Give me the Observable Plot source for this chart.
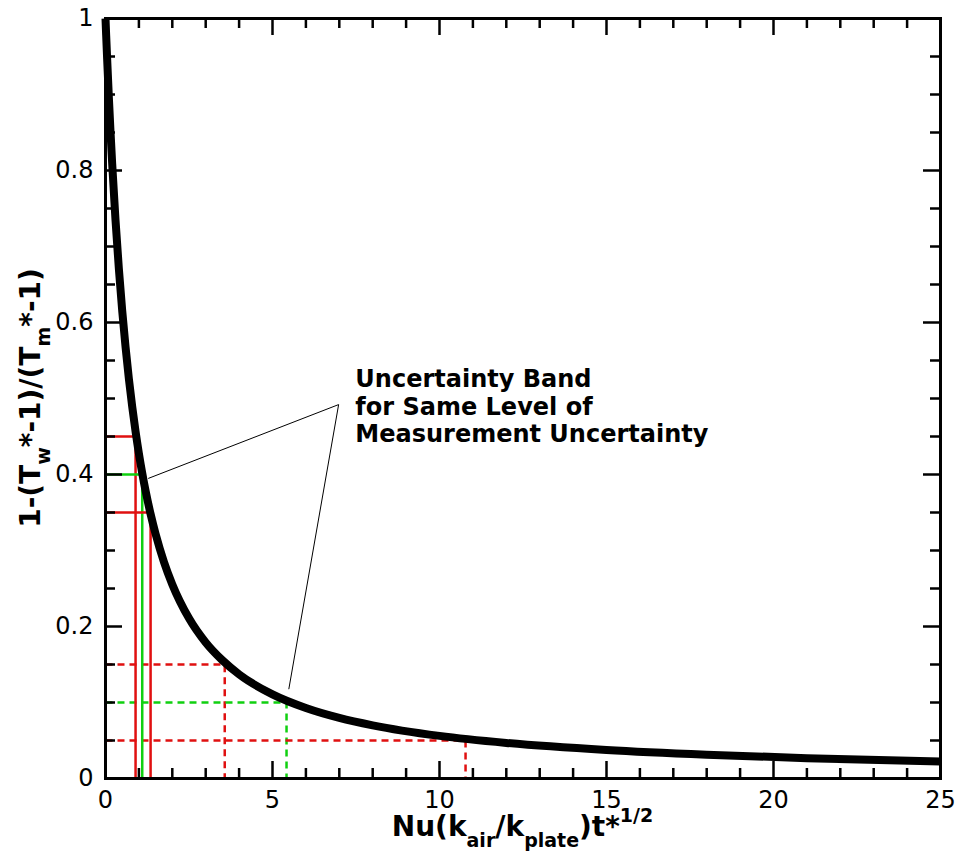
<!DOCTYPE html>
<html><head><meta charset="utf-8">
<script src="https://cdn.jsdelivr.net/npm/d3@7"></script>
<script src="https://cdn.jsdelivr.net/npm/@observablehq/plot@0.6"></script>
<style>html,body{margin:0;padding:0;background:#fff;overflow:hidden} #chart svg{display:block}</style>
</head><body><div id="chart"></div>
<script>
// ---- data ----
const curveX = [0, 0.02, 0.05, 0.1, 0.15, 0.2, 0.3, 0.4, 0.5, 0.6, 0.7, 0.8, 0.9, 1.0, 1.1, 1.2, 1.35, 1.5, 1.75, 2.0, 2.5, 3.0, 3.5, 4.0, 5.0, 6.0, 7.0, 8.0, 10, 12, 15, 18, 21, 25];
const curveY = [1, 0.9778, 0.946, 0.8965, 0.8509, 0.809, 0.7346, 0.6708, 0.6157, 0.5678, 0.5259, 0.4891, 0.4565, 0.4276, 0.4017, 0.3785, 0.348, 0.3216, 0.285, 0.2554, 0.2108, 0.179, 0.1556, 0.137, 0.1107, 0.0928, 0.0798, 0.07, 0.0561, 0.0468, 0.0375, 0.0313, 0.0268, 0.0225];

const xMajor = [0, 5, 10, 15, 20, 25];
const xMinor = [1, 2, 3, 4, 6, 7, 8, 9, 11, 12, 13, 14, 16, 17, 18, 19, 21, 22, 23, 24];
const yMajor = [0, 0.2, 0.4, 0.6, 0.8, 1];
const yMinor = [0.05, 0.1, 0.15, 0.25, 0.3, 0.35, 0.45, 0.5, 0.55, 0.65, 0.7, 0.75, 0.85, 0.9, 0.95];
const xTickLabels = ["0", "5", "10", "15", "20", "25"];
const yTickLabels = ["0", "0.2", "0.4", "0.6", "0.8", "1"];

const bandLevels = [0.45, 0.40, 0.35];
const bandX = [0.9, 1.1, 1.35];
const bandColors = ["#e01010", "#10d010", "#e01010"];

const dashLevels = [0.15, 0.10, 0.05];
const dashX = [3.57, 5.42, 10.78];
const dashColors = ["#e01010", "#10d010", "#e01010"];

const leaderX = [1.29, 6.98, 5.49];
const leaderY = [0.395, 0.492, 0.118];

const noteLines = ["Uncertainty Band", "for Same Level of", "Measurement Uncertainty"];
const noteX = [7.48];
const noteY = [0.541];

// ---- layout ----
const W = 959, H = 861;
const mL = 105, mR = 19, mT = 18, mB = 83;
const frameW = W - mL - mR, frameH = H - mT - mB;
const majorLen = 17, minorLen = 10;

const curve = curveX.map((x, i) => ({x, y: curveY[i]}));
const stepPath = (levels, xs, colors) => levels.flatMap((L, i) => [
  {x: 0, y: L, k: i, c: colors[i]},
  {x: xs[i], y: L, k: i, c: colors[i]},
  {x: xs[i], y: 0, k: i, c: colors[i]}
]);
const bands = stepPath(bandLevels, bandX, bandColors);
const dashes = stepPath(dashLevels, dashX, dashColors);
const leader = leaderX.map((x, i) => ({x, y: leaderY[i]}));
const note = [{x: noteX[0], y: noteY[0], t: noteLines.join("\n")}];
const xLab = xMajor.map((v, i) => ({v, t: xTickLabels[i]}));
const yLab = yMajor.map((v, i) => ({v, t: yTickLabels[i]}));

const tickStyle = {stroke: "black", strokeWidth: 2.5};

const chart = Plot.plot({
  width: W, height: H,
  marginLeft: mL, marginRight: mR, marginTop: mT, marginBottom: mB,
  style: {fontFamily: "DejaVu Sans", fontSize: "24px", background: "white", color: "black", overflow: "visible"},
  x: {domain: [0, 25], axis: null},
  y: {domain: [0, 1], axis: null},
  color: {type: "identity"},
  marks: [
    Plot.line(dashes, {x: "x", y: "y", z: "k", stroke: "c", strokeWidth: 2.5, strokeDasharray: "7,5", strokeLinecap: "butt"}),
    Plot.line(bands, {x: "x", y: "y", z: "k", stroke: "c", strokeWidth: 2.5, strokeLinejoin: "miter", strokeLinecap: "butt"}),
    Plot.line(leader, {x: "x", y: "y", stroke: "black", strokeWidth: 1}),
    Plot.line(curve, {x: "x", y: "y", stroke: "black", strokeWidth: 8, curve: "monotone-x", strokeLinecap: "butt"}),
    // inward ticks on all four sides
    Plot.tickX(xMajor, {x: d => d, insetTop: frameH - majorLen, ...tickStyle}),
    Plot.tickX(xMinor, {x: d => d, insetTop: frameH - minorLen, ...tickStyle}),
    Plot.tickX(xMajor, {x: d => d, insetBottom: frameH - majorLen, ...tickStyle}),
    Plot.tickX(xMinor, {x: d => d, insetBottom: frameH - minorLen, ...tickStyle}),
    Plot.tickY(yMajor, {y: d => d, insetRight: frameW - majorLen, ...tickStyle}),
    Plot.tickY(yMinor, {y: d => d, insetRight: frameW - minorLen, ...tickStyle}),
    Plot.tickY(yMajor, {y: d => d, insetLeft: frameW - majorLen, ...tickStyle}),
    Plot.tickY(yMinor, {y: d => d, insetLeft: frameW - minorLen, ...tickStyle}),
    Plot.frame({stroke: "black", strokeWidth: 3}),
    // tick labels
    Plot.text(xLab, {x: "v", text: "t", frameAnchor: "bottom", dy: 12, lineAnchor: "top", fontSize: 24, fill: "black"}),
    Plot.text(yLab, {y: "v", text: "t", frameAnchor: "left", dx: -12, textAnchor: "end", fontSize: 24, fill: "black"}),
    Plot.text(note, {x: "x", y: "y", text: "t", textAnchor: "start", lineAnchor: "top", lineHeight: 1.15, fontSize: 24, fontWeight: "bold", fill: "black"})
  ]
});
document.getElementById("chart").appendChild(chart);

// ---- axis titles with sub/superscripts ----
const svg = d3.select(chart);
function rich(sel, parts, sub, sup) {
  let shift = 0;
  for (const [str, kind] of parts) {
    const target = kind === "sub" ? sub : kind === "sup" ? -sup : 0;
    const t = sel.append("tspan").attr("dy", target - shift).text(str);
    if (kind) t.attr("font-size", 19);
    shift = target;
  }
}
const xt = svg.append("text")
  .attr("x", mL + frameW / 2).attr("y", H - mB + 58)
  .attr("text-anchor", "middle").attr("font-family", "DejaVu Sans")
  .attr("font-weight", "bold").attr("font-size", 28).attr("fill", "black");
rich(xt, [["Nu(k"], ["air", "sub"], ["/k"], ["plate", "sub"], [")t*"], ["1/2", "sup"]], 11, 14);

const yt = svg.append("text")
  .attr("transform", `translate(40,${mT + frameH / 2}) rotate(-90)`)
  .attr("text-anchor", "middle").attr("font-family", "DejaVu Sans")
  .attr("font-weight", "bold").attr("font-size", 28).attr("fill", "black");
rich(yt, [["1-(T"], ["w", "sub"], ["*-1)/(T"], ["m", "sub"], ["*-1)"]], 10, 14);
</script>
</body></html>
